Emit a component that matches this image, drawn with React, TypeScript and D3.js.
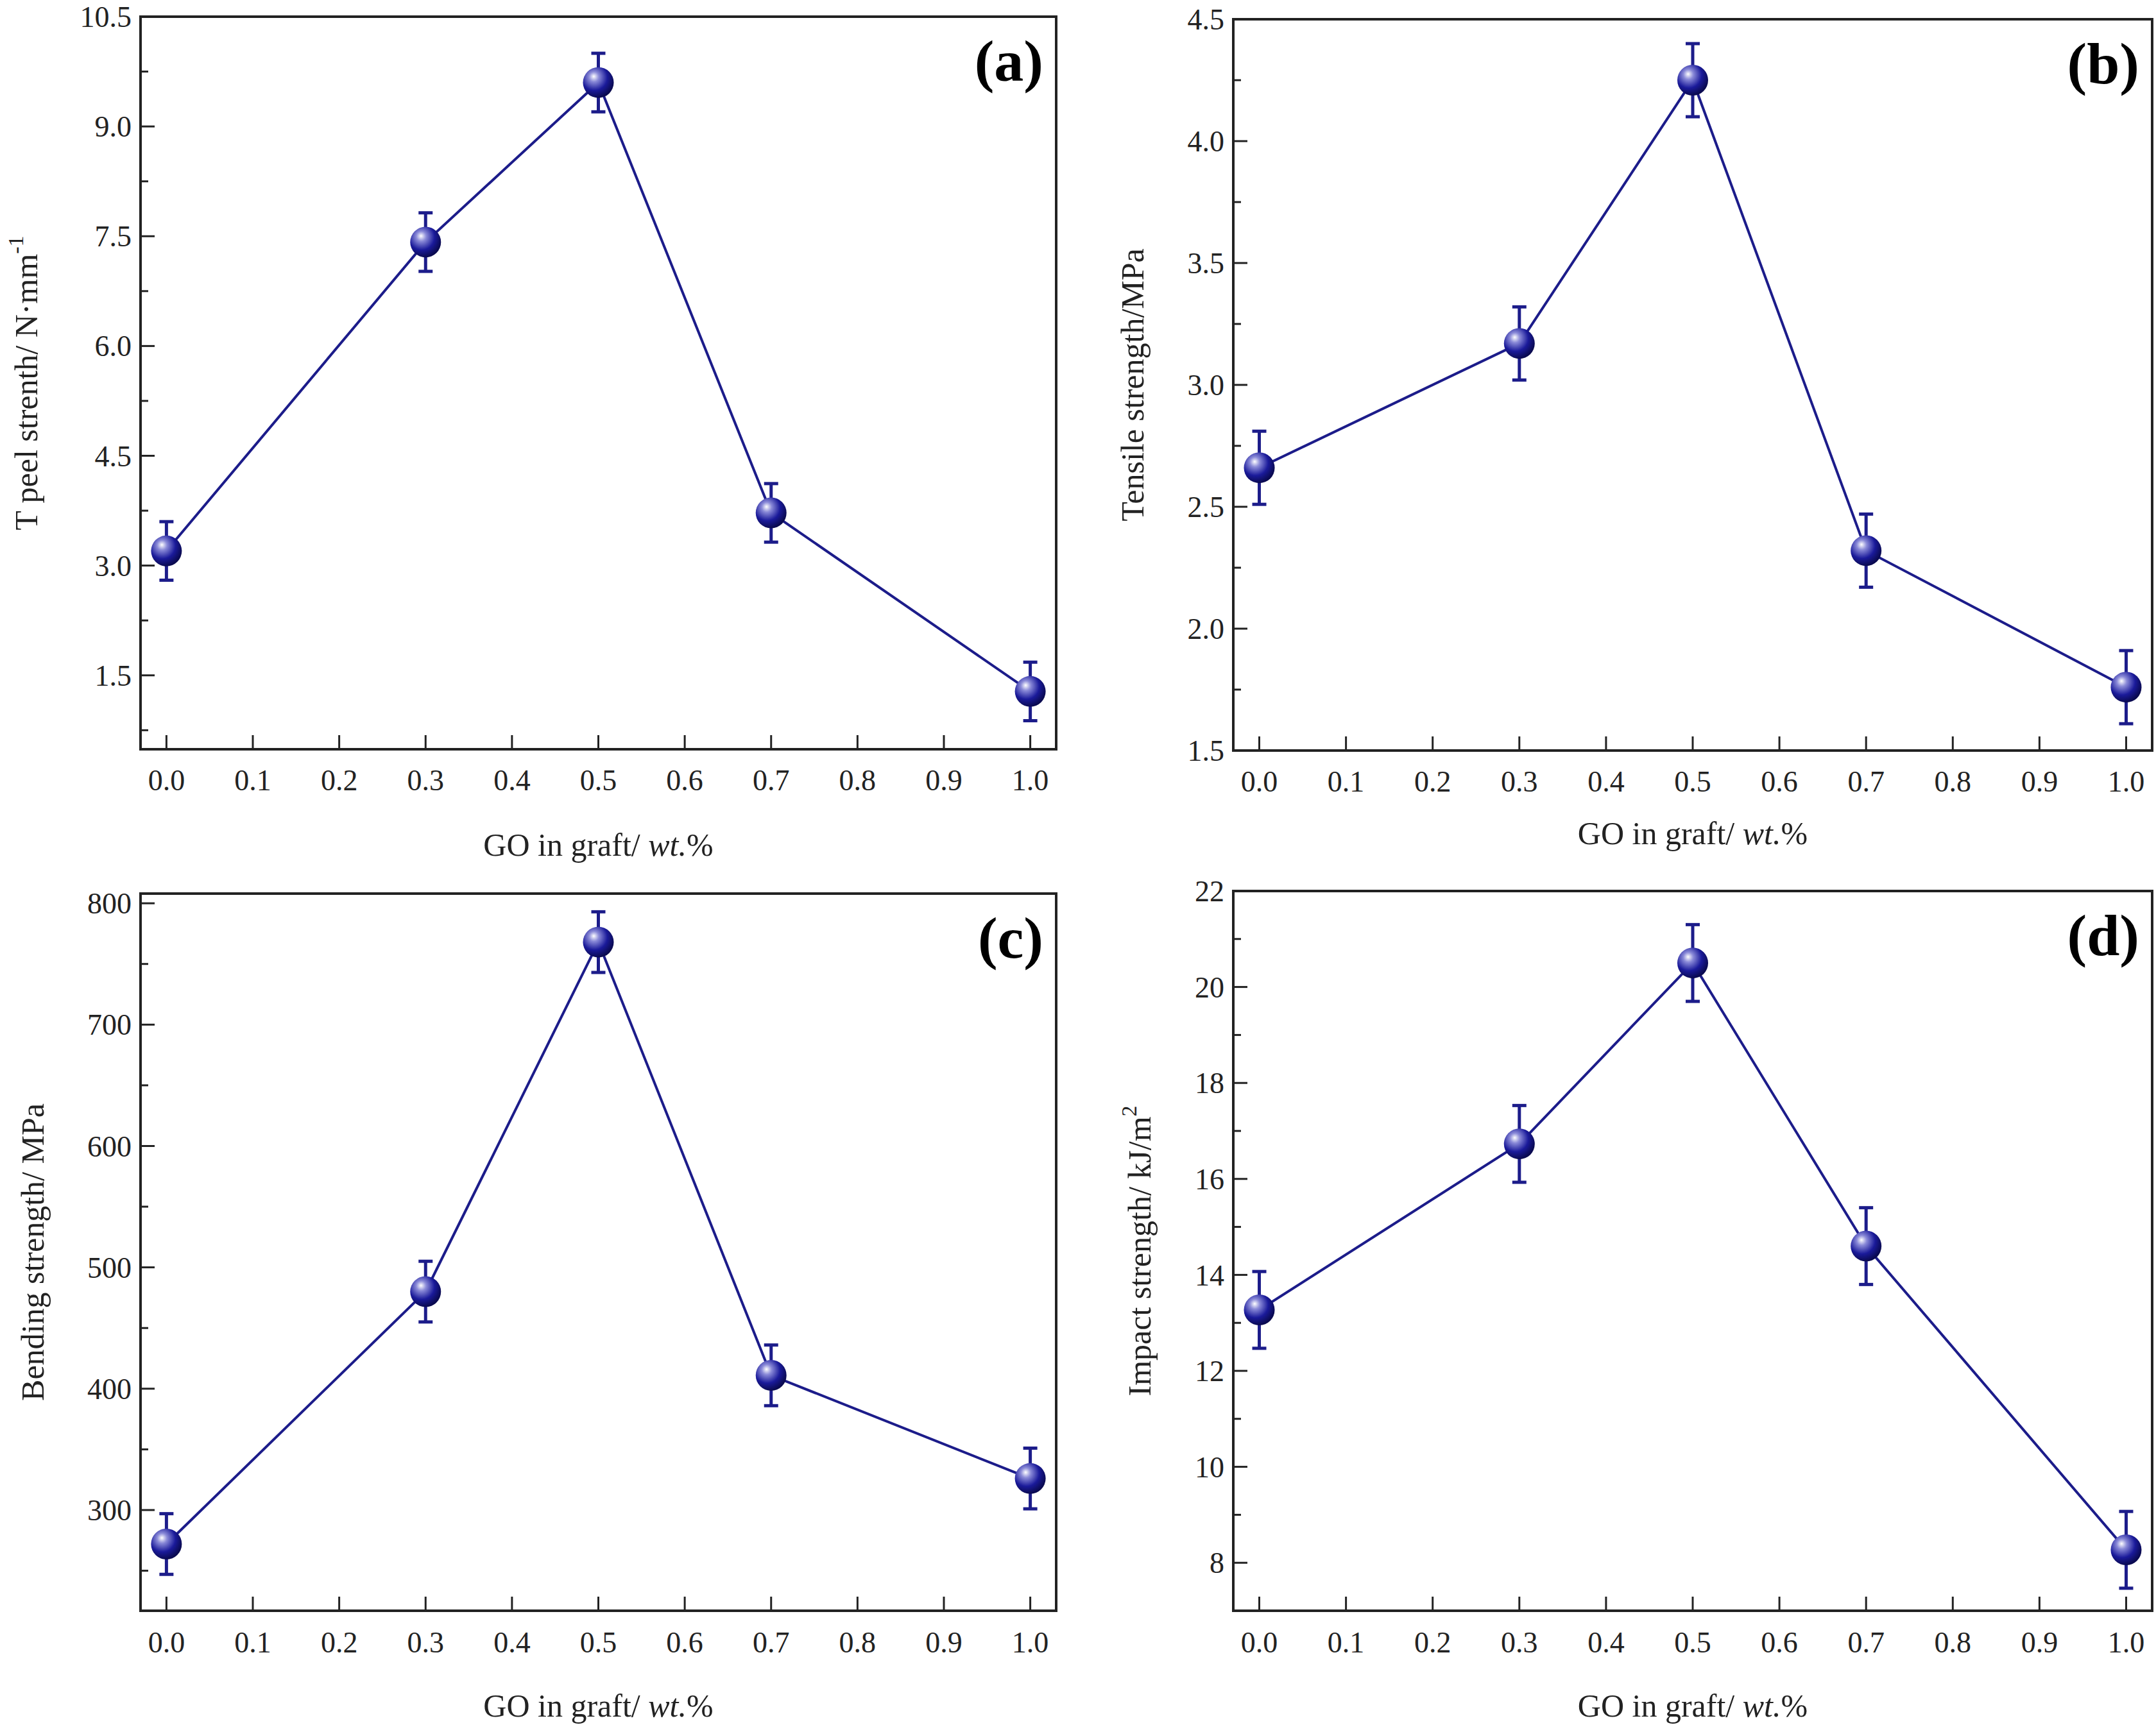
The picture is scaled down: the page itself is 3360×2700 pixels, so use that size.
import * as d3 from 'd3'

const goContent = [0, 0.3, 0.5, 0.7, 1.0]
const xTicks = [0, 0.1, 0.2, 0.3, 0.4, 0.5, 0.6, 0.7, 0.8, 0.9, 1.0]

const peelValues = [3.2, 7.42, 9.6, 3.72, 1.28]
const peelErrors = [0.4, 0.4, 0.4, 0.4, 0.4]
const peelTicks = [1.5, 3.0, 4.5, 6.0, 7.5, 9.0, 10.5]

const tensileValues = [2.66, 3.17, 4.25, 2.32, 1.76]
const tensileErrors = [0.15, 0.15, 0.15, 0.15, 0.15]
const tensileTicks = [1.5, 2.0, 2.5, 3.0, 3.5, 4.0, 4.5]

const bendingValues = [272, 480, 768, 411, 326]
const bendingErrors = [25, 25, 25, 25, 25]
const bendingTicks = [300, 400, 500, 600, 700, 800]

const impactValues = [13.27, 16.73, 20.5, 14.6, 8.27]
const impactErrors = [0.8, 0.8, 0.8, 0.8, 0.8]
const impactTicks = [8, 10, 12, 14, 16, 18, 20, 22]

const NAVY = '#1c1c8a'
const FONT = '"Liberation Serif", "Times New Roman", serif'

interface PanelProps {
  id: string
  label: string
  box: { x0: number; x1: number; y0: number; y1: number }
  yDomain: [number, number]
  yTicks: number[]
  fmt: (v: number) => string
  values: number[]
  errors: number[]
  yTitle: React.ReactNode
  yTitleX: number
  xTickY: number
  xTitleY: number
}

function Panel(p: PanelProps) {
  const { box } = p
  const x = d3.scaleLinear().domain([-0.03, 1.03]).range([box.x0, box.x1])
  const y = d3.scaleLinear().domain(p.yDomain).range([box.y1, box.y0])
  const step = p.yTicks[1] - p.yTicks[0]
  const minorY = p.yTicks.map((t) => t + step / 2).filter((t) => t > p.yDomain[0] && t < p.yDomain[1])
  const minorY2 = p.yTicks.map((t) => t - step / 2).filter((t) => t > p.yDomain[0] && t < p.yDomain[1])
  const allMinor = Array.from(new Set([...minorY, ...minorY2]))
  const line = d3.line<number>().x((_, i) => x(goContent[i])).y((d) => y(d))
  const gradId = `ball-${p.id}`
  return (
    <g>
      <defs>
        <radialGradient id={gradId} cx="0.38" cy="0.35" r="0.65" fx="0.35" fy="0.3">
          <stop offset="0%" stopColor="#ffffff" />
          <stop offset="25%" stopColor="#8a8ad8" />
          <stop offset="65%" stopColor="#1a1a9a" />
          <stop offset="100%" stopColor="#0a0a50" />
        </radialGradient>
      </defs>
      {/* ticks */}
      {xTicks.map((t) => (
        <line key={'xt' + t} x1={x(t)} x2={x(t)} y1={box.y1} y2={box.y1 - 22} stroke="#222" strokeWidth={3} />
      ))}
      {p.yTicks.map((t) => (
        <line key={'yt' + t} x1={box.x0} x2={box.x0 + 22} y1={y(t)} y2={y(t)} stroke="#222" strokeWidth={3} />
      ))}
      {allMinor.map((t) => (
        <line key={'ym' + t} x1={box.x0} x2={box.x0 + 12} y1={y(t)} y2={y(t)} stroke="#222" strokeWidth={3} />
      ))}
      {xTicks.map((t) => (
        <text key={'xl' + t} x={x(t)} y={p.xTickY} textAnchor="middle" fontSize={46} fontFamily={FONT} fill="#222">
          {t.toFixed(1)}
        </text>
      ))}
      {p.yTicks.map((t) => (
        <text key={'yl' + t} x={box.x0 - 14} y={y(t)} dy="0.35em" textAnchor="end" fontSize={46} fontFamily={FONT} fill="#222">
          {p.fmt(t)}
        </text>
      ))}
      {/* series */}
      <path d={line(p.values) ?? ''} fill="none" stroke={NAVY} strokeWidth={4} />
      {p.values.map((v, i) => {
        const cx = x(goContent[i])
        const top = y(v + p.errors[i])
        const bot = y(v - p.errors[i])
        return (
          <g key={'pt' + i} stroke={NAVY} strokeWidth={5}>
            <line x1={cx} x2={cx} y1={top} y2={bot} />
            <line x1={cx - 11} x2={cx + 11} y1={top} y2={top} />
            <line x1={cx - 11} x2={cx + 11} y1={bot} y2={bot} />
            <circle cx={cx} cy={y(v)} r={24} fill={`url(#${gradId})`} stroke="none" />
          </g>
        )
      })}
      <rect x={box.x0} y={box.y0} width={box.x1 - box.x0} height={box.y1 - box.y0} fill="none" stroke="#222" strokeWidth={4} />
      <text x={box.x1 - 20} y={box.y0 + 100} textAnchor="end" fontSize={92} fontWeight="bold" fontFamily={FONT} fill="#000">
        {p.label}
      </text>
      <text
        transform={`translate(${p.yTitleX},${(box.y0 + box.y1) / 2}) rotate(-90)`}
        textAnchor="middle"
        fontSize={50}
        fontFamily={FONT}
        fill="#222"
      >
        {p.yTitle}
      </text>
      <text x={(box.x0 + box.x1) / 2} y={p.xTitleY} textAnchor="middle" fontSize={50} fontFamily={FONT} fill="#222">
        GO in graft/ <tspan fontStyle="italic">wt.</tspan>%
      </text>
    </g>
  )
}

export default function App() {
  const f1 = (v: number) => v.toFixed(1)
  const f0 = (v: number) => String(v)
  return (
    <svg width={3360} height={2700} style={{ position: 'absolute', left: 0, top: 0, background: '#fff' }}>
      <rect width={3360} height={2700} fill="#fff" />
      <Panel
        id="a"
        label="(a)"
        box={{ x0: 219, x1: 1646, y0: 26, y1: 1168 }}
        yDomain={[0.49, 10.5]}
        yTicks={peelTicks}
        fmt={f1}
        values={peelValues}
        errors={peelErrors}
        yTitle={<>T peel strenth/ N·mm<tspan dy="-22" fontSize={34}>-1</tspan></>}
        yTitleX={58}
        xTickY={1232}
        xTitleY={1334}
      />
      <Panel
        id="b"
        label="(b)"
        box={{ x0: 1922, x1: 3354, y0: 30, y1: 1170 }}
        yDomain={[1.5, 4.5]}
        yTicks={tensileTicks}
        fmt={f1}
        values={tensileValues}
        errors={tensileErrors}
        yTitle="Tensile strength/MPa"
        yTitleX={1782}
        xTickY={1234}
        xTitleY={1316}
      />
      <Panel
        id="c"
        label="(c)"
        box={{ x0: 219, x1: 1646, y0: 1393, y1: 2511 }}
        yDomain={[217, 808]}
        yTicks={bendingTicks}
        fmt={f0}
        values={bendingValues}
        errors={bendingErrors}
        yTitle="Bending strength/ MPa"
        yTitleX={68}
        xTickY={2576}
        xTitleY={2676}
      />
      <Panel
        id="d"
        label="(d)"
        box={{ x0: 1922, x1: 3354, y0: 1389, y1: 2511 }}
        yDomain={[7, 22]}
        yTicks={impactTicks}
        fmt={f0}
        values={impactValues}
        errors={impactErrors}
        yTitle={<>Impact strength/ kJ/m<tspan dy="-22" fontSize={34}>2</tspan></>}
        yTitleX={1793}
        xTickY={2576}
        xTitleY={2676}
      />
    </svg>
  )
}
